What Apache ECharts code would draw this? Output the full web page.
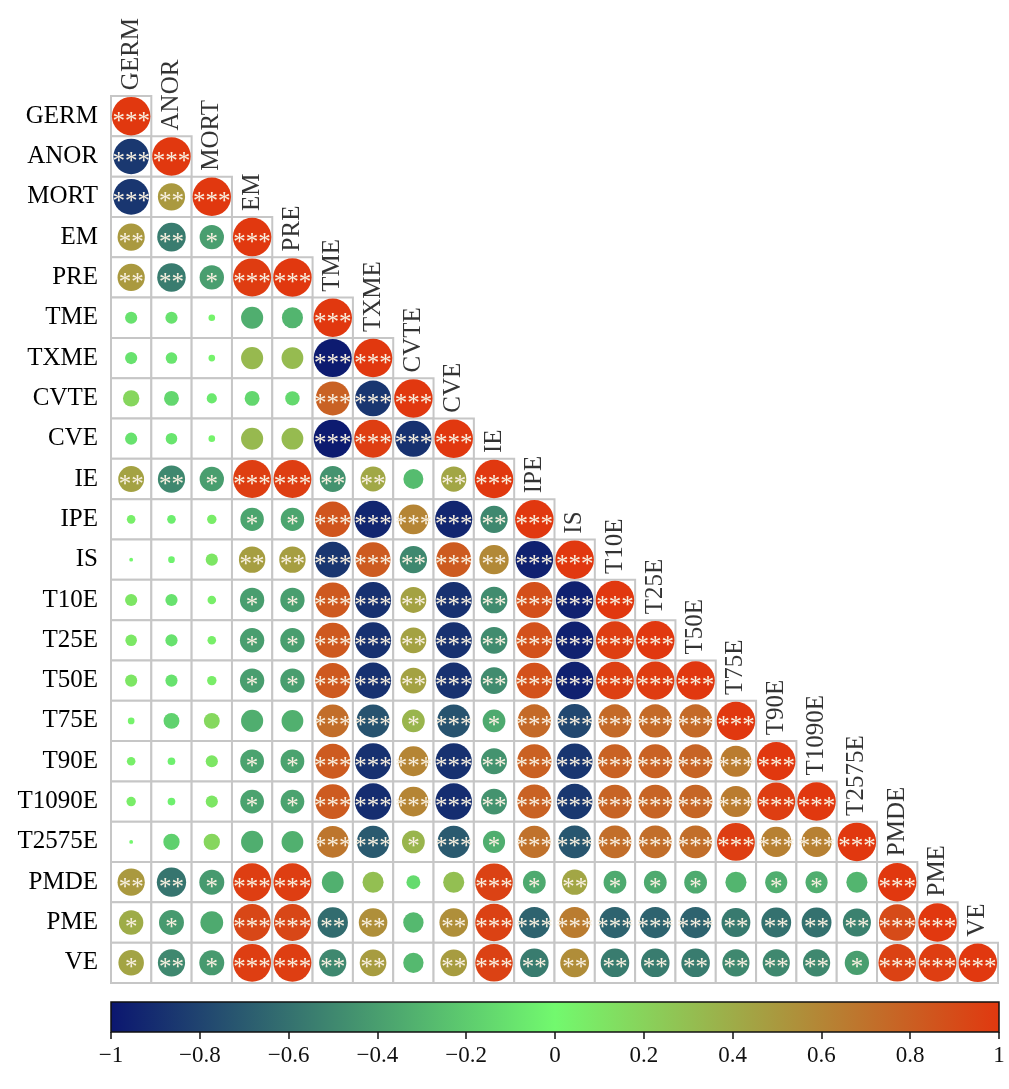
<!DOCTYPE html>
<html>
<head>
<meta charset="utf-8">
<script src="https://cdn.jsdelivr.net/npm/echarts@6/dist/echarts.min.js"></script>
<style>
  html, body { margin: 0; padding: 0; background: #fff; }
  #main { width: 1009px; height: 1089px; }
</style>
</head>
<body>
<div id="main"></div>
<script>
var vars = ['GERM', 'ANOR', 'MORT', 'EM', 'PRE', 'TME', 'TXME', 'CVTE', 'CVE', 'IE', 'IPE',
  'IS', 'T10E', 'T25E', 'T50E', 'T75E', 'T90E', 'T1090E', 'T2575E', 'PMDE', 'PME', 'VE'];

// lower triangle of the correlation matrix, row by row (diagonal included)
var corr = [
  [1],
  [-0.85, 1],
  [-0.86, 0.5, 1],
  [0.5, -0.55, -0.4, 1],
  [0.5, -0.55, -0.4, 0.98, 1],
  [-0.1, -0.1, 0.03, -0.33, -0.3, 1],
  [-0.1, -0.09, 0.03, 0.33, 0.32, -0.98, 1],
  [0.18, -0.15, -0.07, -0.15, -0.14, 0.78, -0.86, 1],
  [-0.1, -0.09, 0.03, 0.33, 0.32, -0.98, 0.97, -0.88, 1],
  [0.45, -0.5, -0.4, 0.97, 0.97, -0.45, 0.42, -0.27, 0.43, 1],
  [0.05, -0.05, 0.06, -0.37, -0.37, 0.85, -0.93, 0.6, -0.93, -0.5, 1],
  [0.01, -0.03, 0.1, 0.47, 0.47, -0.86, 0.82, -0.5, 0.82, 0.58, -0.95, 1],
  [0.1, -0.1, 0.05, -0.4, -0.4, 0.83, -0.88, 0.45, -0.88, -0.48, 0.88, -0.95, 1],
  [0.09, -0.1, 0.05, -0.4, -0.4, 0.83, -0.88, 0.45, -0.88, -0.48, 0.87, -0.95, 0.97, 1],
  [0.1, -0.1, 0.06, -0.4, -0.4, 0.83, -0.88, 0.45, -0.88, -0.48, 0.87, -0.95, 0.96, 0.98, 1],
  [0.03, -0.17, 0.17, -0.33, -0.32, 0.72, -0.73, 0.35, -0.73, -0.35, 0.74, -0.78, 0.74, 0.74, 0.74, 1],
  [0.05, -0.04, 0.1, -0.38, -0.38, 0.82, -0.88, 0.6, -0.88, -0.45, 0.79, -0.86, 0.78, 0.78, 0.77, 0.65, 1],
  [0.06, -0.04, 0.1, -0.38, -0.38, 0.82, -0.9, 0.6, -0.9, -0.45, 0.78, -0.85, 0.77, 0.77, 0.76, 0.65, 0.97, 1],
  [0.01, -0.18, 0.18, -0.33, -0.32, 0.68, -0.7, 0.35, -0.7, -0.33, 0.7, -0.72, 0.72, 0.72, 0.72, 0.97, 0.62, 0.62, 1],
  [0.5, -0.58, -0.42, 0.97, 0.97, -0.32, 0.3, -0.13, 0.3, 0.95, -0.35, 0.43, -0.35, -0.35, -0.35, -0.3, -0.33, -0.33, -0.3, 1],
  [0.4, -0.42, -0.35, 0.92, 0.92, -0.62, 0.55, -0.28, 0.55, 0.95, -0.66, 0.65, -0.66, -0.66, -0.66, -0.56, -0.6, -0.6, -0.53, 0.9, 1],
  [0.44, -0.5, -0.42, 0.97, 0.97, -0.5, 0.48, -0.28, 0.48, 0.95, -0.55, 0.56, -0.55, -0.55, -0.55, -0.5, -0.5, -0.5, -0.4, 0.95, 0.97, 1]
];

// number of significance stars for each cell above
var stars = [
  [3],
  [3, 3],
  [3, 2, 3],
  [2, 2, 1, 3],
  [2, 2, 1, 3, 3],
  [0, 0, 0, 0, 0, 3],
  [0, 0, 0, 0, 0, 3, 3],
  [0, 0, 0, 0, 0, 3, 3, 3],
  [0, 0, 0, 0, 0, 3, 3, 3, 3],
  [2, 2, 1, 3, 3, 2, 2, 0, 2, 3],
  [0, 0, 0, 1, 1, 3, 3, 3, 3, 2, 3],
  [0, 0, 0, 2, 2, 3, 3, 2, 3, 2, 3, 3],
  [0, 0, 0, 1, 1, 3, 3, 2, 3, 2, 3, 3, 3],
  [0, 0, 0, 1, 1, 3, 3, 2, 3, 2, 3, 3, 3, 3],
  [0, 0, 0, 1, 1, 3, 3, 2, 3, 2, 3, 3, 3, 3, 3],
  [0, 0, 0, 0, 0, 3, 3, 1, 3, 1, 3, 3, 3, 3, 3, 3],
  [0, 0, 0, 1, 1, 3, 3, 3, 3, 2, 3, 3, 3, 3, 3, 3, 3],
  [0, 0, 0, 1, 1, 3, 3, 3, 3, 2, 3, 3, 3, 3, 3, 3, 3, 3],
  [0, 0, 0, 0, 0, 3, 3, 1, 3, 1, 3, 3, 3, 3, 3, 3, 3, 3, 3],
  [2, 2, 1, 3, 3, 0, 0, 0, 0, 3, 1, 2, 1, 1, 1, 0, 1, 1, 0, 3],
  [1, 1, 0, 3, 3, 2, 2, 0, 2, 3, 3, 3, 3, 3, 3, 2, 2, 2, 2, 3, 3],
  [1, 2, 1, 3, 3, 2, 2, 0, 2, 3, 2, 2, 2, 2, 2, 2, 2, 2, 1, 3, 3, 3]
];

var colorStops = ['#0b1670', '#72f96e', '#e1380f'];

var cells = [];
var points = [];
var diag = [];
for (var i = 0; i < vars.length; i++) {
  for (var j = 0; j <= i; j++) {
    cells.push([j, i]);
    points.push([j, i, corr[i][j], stars[i][j]]);
  }
  diag.push([i, i, vars[i]]);
}

var serif = "'Liberation Serif', 'Times New Roman', serif";

var myChart = echarts.init(document.getElementById('main'));
var option = {
  backgroundColor: '#fff',
  animation: false,
  grid: [
    { left: 111, top: 96, width: 887, height: 887, show: false },
    {
      left: 111, top: 1002, width: 888, height: 30, show: true,
      borderColor: '#111', borderWidth: 1.5,
      backgroundColor: new echarts.graphic.LinearGradient(0, 0, 1, 0, [
        { offset: 0, color: colorStops[0] },
        { offset: 0.5, color: colorStops[1] },
        { offset: 1, color: colorStops[2] }
      ])
    }
  ],
  xAxis: [
    {
      type: 'category', data: vars, gridIndex: 0,
      axisLine: { show: false }, axisTick: { show: false },
      axisLabel: { show: false }, splitLine: { show: false }
    },
    {
      type: 'value', gridIndex: 1, min: -1, max: 1, interval: 0.2,
      axisLine: { show: false },
      axisTick: { show: true, length: 7, lineStyle: { color: '#111', width: 1.5 } },
      splitLine: { show: false },
      axisLabel: {
        color: '#111', fontFamily: serif, fontSize: 23, margin: 12,
        formatter: function (v) {
          var r = Math.round(v * 10) / 10;
          return r < 0 ? '\u2212' + Math.abs(r) : String(r);
        }
      }
    }
  ],
  yAxis: [
    {
      type: 'category', data: vars, inverse: true, gridIndex: 0,
      axisLine: { show: false }, axisTick: { show: false }, splitLine: { show: false },
      axisLabel: { color: '#000', fontFamily: serif, fontSize: 25, margin: 13 }
    },
    { type: 'value', gridIndex: 1, show: false, min: 0, max: 1 }
  ],
  visualMap: {
    type: 'continuous', show: false, min: -1, max: 1,
    seriesIndex: 1, dimension: 2,
    inRange: { color: colorStops }
  },
  series: [
    {
      type: 'custom',
      xAxisIndex: 0, yAxisIndex: 0,
      data: cells,
      silent: true,
      renderItem: function (params, api) {
        var c = api.coord([api.value(0), api.value(1)]);
        var s = api.size([1, 1]);
        return {
          type: 'rect',
          shape: { x: c[0] - s[0] / 2, y: c[1] - s[1] / 2, width: s[0], height: s[1] },
          style: { fill: '#fff', stroke: '#c6c6c6', lineWidth: 2 }
        };
      },
      z: 1
    },
    {
      type: 'scatter',
      xAxisIndex: 0, yAxisIndex: 0,
      data: points,
      symbol: 'circle',
      symbolSize: function (v) { return 38.5 * Math.sqrt(Math.abs(v[2])); },
      itemStyle: { opacity: 1 },
      label: {
        show: true, position: 'inside',
        formatter: function (p) { return '*'.repeat(p.value[3]); },
        color: '#f8f0e0', fontFamily: serif, fontSize: 25, offset: [0, 6]
      },
      z: 3
    },
    {
      type: 'scatter',
      xAxisIndex: 0, yAxisIndex: 0,
      data: diag,
      symbolSize: 40,
      itemStyle: { color: 'rgba(0,0,0,0)' },
      silent: true,
      label: {
        show: true, position: 'top', distance: 6, rotate: 90,
        align: 'left', verticalAlign: 'middle',
        formatter: function (p) { return p.value[2]; },
        color: '#000', fontFamily: serif, fontSize: 25
      },
      z: 2
    }
  ]
};

myChart.setOption(option);
</script>
</body>
</html>
